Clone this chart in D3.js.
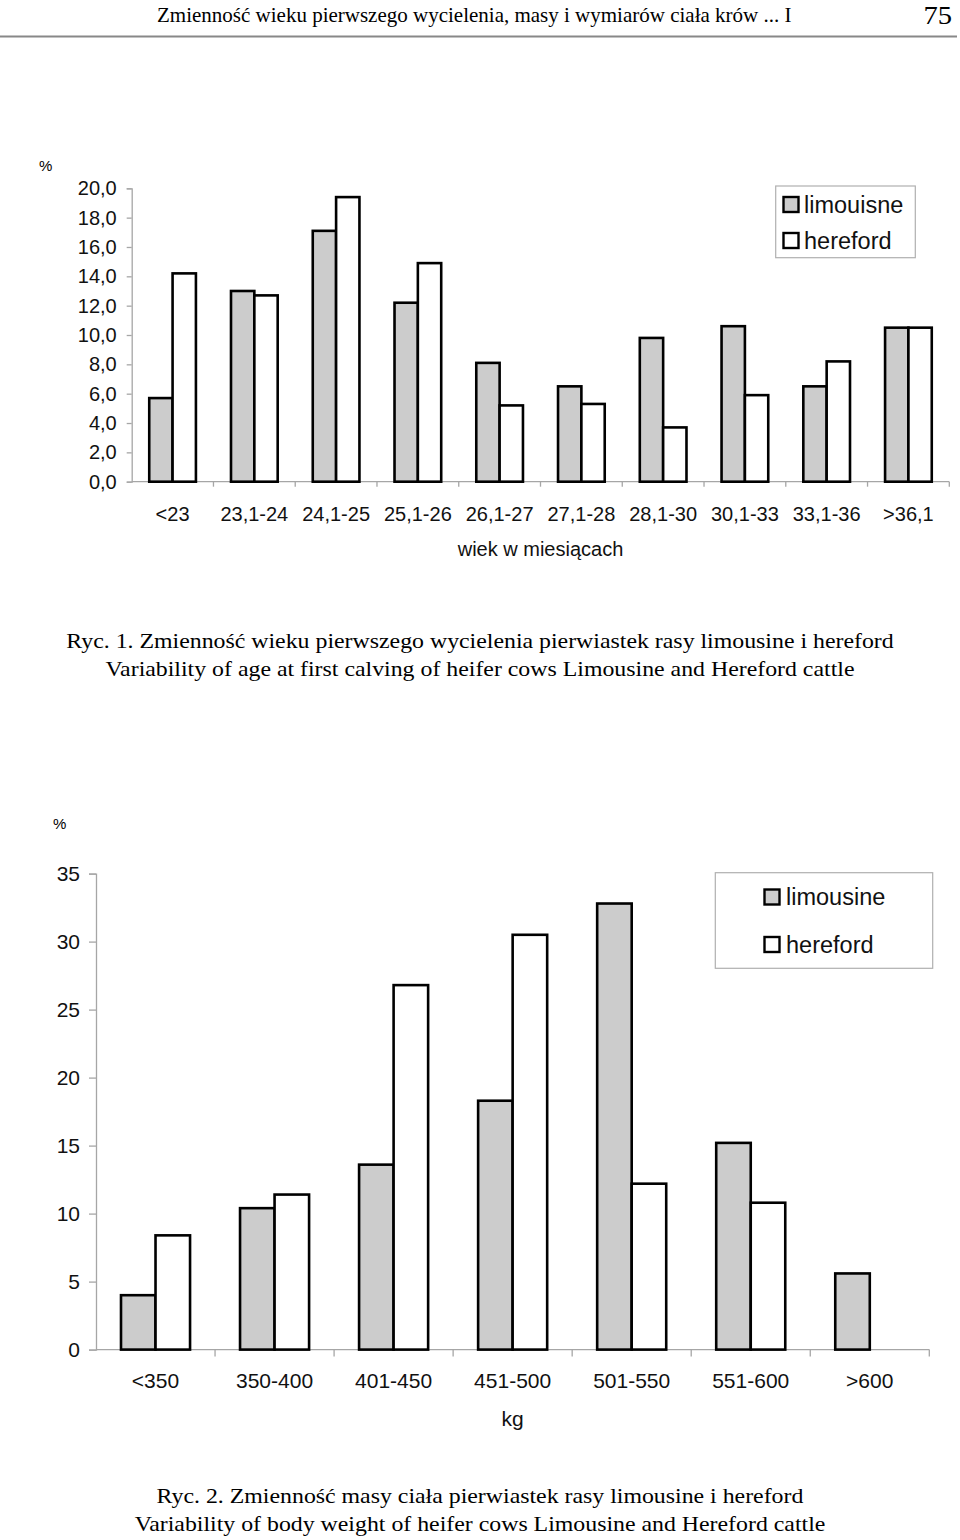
<!DOCTYPE html>
<html>
<head>
<meta charset="utf-8">
<script src="https://cdn.jsdelivr.net/npm/d3@7"></script>
<style>
  body { margin: 0; background: #fff; }
  .sans { font-family: "Liberation Sans", Arial, sans-serif; }
  .serif { font-family: "Liberation Serif", "Times New Roman", serif; }
</style>
</head>
<body>
<svg id="page" width="960" height="1540"></svg>
<script>
// Ryc. 1 - age at first calving
const ageCats = ["<23", "23,1-24", "24,1-25", "25,1-26", "26,1-27", "27,1-28", "28,1-30", "30,1-33", "33,1-36", ">36,1"];
const ageLimousine = [5.7, 13.0, 17.1, 12.2, 8.1, 6.5, 9.8, 10.6, 6.5, 10.5];
const ageHereford = [14.2, 12.7, 19.4, 14.9, 5.2, 5.3, 3.7, 5.9, 8.2, 10.5];
const ageTicks = [0, 2, 4, 6, 8, 10, 12, 14, 16, 18, 20];
const ageLegend = ["limouisne", "hereford"];

// Ryc. 2 - body weight
const weightCats = ["<350", "350-400", "401-450", "451-500", "501-550", "551-600", ">600"];
const weightLimousine = [4.0, 10.4, 13.6, 18.3, 32.8, 15.2, 5.6];
const weightHereford = [8.4, 11.4, 26.8, 30.5, 12.2, 10.8, 0];
const weightTicks = [0, 5, 10, 15, 20, 25, 30, 35];
const weightLegend = ["limousine", "hereford"];

const series = ["lim", "her"];
const fills = { lim: "#cccccc", her: "#ffffff" };

const svg = d3.select("#page");

// page header
svg.append("text")
  .attr("class", "serif")
  .attr("x", 157).attr("y", 22)
  .style("font-size", "21px")
  .text("Zmienność wieku pierwszego wycielenia, masy i wymiarów ciała krów ... I");
svg.append("text")
  .attr("class", "serif")
  .attr("transform", "translate(952,24) scale(1.1,1)")
  .attr("text-anchor", "end")
  .style("font-size", "26px")
  .text("75");
svg.append("line")
  .attr("x1", 0).attr("x2", 957)
  .attr("y1", 36.5).attr("y2", 36.5)
  .attr("stroke", "#888").attr("stroke-width", 2);

function drawChart(cfg) {
  const g = svg.append("g");
  const rows = cfg.cats.map((c, i) => ({ cat: c, lim: cfg.lim[i], her: cfg.her[i] }));

  const x = d3.scaleBand().domain(cfg.cats).range([cfg.left, cfg.right]);
  const bw = x.bandwidth();
  const inner = d3.scaleBand().domain(series)
    .range([bw * (1 - cfg.group) / 2, bw * (1 + cfg.group) / 2]);
  const y = d3.scaleLinear().domain(cfg.domain).range([cfg.bottom, cfg.top]);

  // y axis
  const yAxis = d3.axisLeft(y)
    .tickValues(cfg.ticks)
    .tickSize(cfg.tickLen)
    .tickPadding(cfg.tickPad)
    .tickFormat(cfg.fmt);
  const ya = g.append("g")
    .attr("transform", `translate(${cfg.left},0)`)
    .call(yAxis);
  ya.select(".domain").attr("stroke", "#a6a6a6").attr("stroke-width", 1.3);
  ya.selectAll(".tick line").attr("stroke", "#a6a6a6").attr("stroke-width", 1.3);
  ya.selectAll(".tick text")
    .attr("class", "sans")
    .style("font-size", cfg.fontSize + "px")
    .attr("fill", "#111");

  // x axis line and category boundaries
  g.append("line")
    .attr("x1", cfg.left).attr("x2", cfg.right)
    .attr("y1", y(0)).attr("y2", y(0))
    .attr("stroke", "#a6a6a6").attr("stroke-width", 1.3);
  const bounds = cfg.cats.slice(1).map(c => x(c)).concat([x(cfg.cats[cfg.cats.length - 1]) + bw]);
  g.selectAll(".xtick").data(bounds).enter().append("line")
    .attr("x1", d => d).attr("x2", d => d)
    .attr("y1", y(0)).attr("y2", y(0) + cfg.tickLen)
    .attr("stroke", "#a6a6a6").attr("stroke-width", 1.3);

  g.selectAll(".xlab").data(cfg.cats).enter().append("text")
    .attr("class", "sans")
    .attr("x", d => x(d) + bw / 2)
    .attr("y", cfg.labelY)
    .attr("text-anchor", "middle")
    .style("font-size", cfg.fontSize + "px")
    .attr("fill", "#111")
    .text(d => d);

  g.append("text")
    .attr("class", "sans")
    .attr("x", (cfg.left + cfg.right) / 2)
    .attr("y", cfg.titleY)
    .attr("text-anchor", "middle")
    .style("font-size", cfg.fontSize + "px")
    .attr("fill", "#111")
    .text(cfg.xTitle);

  g.append("text")
    .attr("class", "sans")
    .attr("x", cfg.pctX).attr("y", cfg.pctY)
    .style("font-size", "15px")
    .text("%");

  // bars
  const groups = g.selectAll(".grp").data(rows).enter().append("g")
    .attr("transform", d => `translate(${x(d.cat)},0)`);
  groups.selectAll("rect")
    .data(d => series.map(s => ({ s, v: d[s] })).filter(e => e.v > 0))
    .enter().append("rect")
    .attr("x", d => inner(d.s))
    .attr("width", inner.bandwidth())
    .attr("y", d => y(d.v))
    .attr("height", d => y(0) - y(d.v))
    .attr("fill", d => fills[d.s])
    .attr("stroke", "#000")
    .attr("stroke-width", 2.6);

  // legend
  const L = cfg.legend;
  const lg = g.append("g");
  lg.append("rect")
    .attr("x", L.x).attr("y", L.y).attr("width", L.w).attr("height", L.h)
    .attr("fill", "#fff").attr("stroke", "#b0b0b0").attr("stroke-width", 1.2);
  cfg.legendNames.forEach((name, i) => {
    lg.append("rect")
      .attr("x", L.sx).attr("y", L.sy[i]).attr("width", 15).attr("height", 15)
      .attr("fill", fills[series[i]]).attr("stroke", "#000").attr("stroke-width", 2.4);
    lg.append("text")
      .attr("class", "sans")
      .attr("x", L.tx).attr("y", L.ty[i])
      .style("font-size", L.fs + "px")
      .attr("fill", "#111")
      .text(name);
  });

  // caption (the scan's serif type is a bit wider than Times)
  cfg.caption.forEach((line, i) => {
    svg.append("text")
      .attr("class", "serif")
      .attr("transform", `translate(480,${cfg.capY[i]}) scale(1.135,1)`)
      .attr("text-anchor", "middle")
      .style("font-size", "21px")
      .text(line);
  });
}

drawChart({
  cats: ageCats, lim: ageLimousine, her: ageHereford,
  left: 131.7, right: 949.3, top: 188.3, bottom: 481.7,
  domain: [0, 20], ticks: ageTicks, group: 0.571,
  fmt: d => d3.format(".1f")(d).replace(".", ","),
  tickLen: 5, tickPad: 10, fontSize: 20,
  labelY: 521, titleY: 556, xTitle: "wiek w miesiącach",
  pctX: 39, pctY: 171,
  legendNames: ageLegend,
  legend: { x: 775.7, y: 186, w: 139.6, h: 71.7, sx: 783.5, sy: [197, 233], tx: 804, ty: [212.5, 248.5], fs: 23.5 },
  caption: [
    "Ryc. 1. Zmienność wieku pierwszego wycielenia pierwiastek rasy limousine i hereford",
    "Variability of age at first calving of heifer cows Limousine and Hereford cattle"
  ],
  capY: [648, 676]
});

drawChart({
  cats: weightCats, lim: weightLimousine, her: weightHereford,
  left: 96, right: 929.3, top: 873.6, bottom: 1349.6,
  domain: [0, 35], ticks: weightTicks, group: 0.58,
  fmt: d3.format("d"),
  tickLen: 7, tickPad: 9, fontSize: 21,
  labelY: 1388, titleY: 1426, xTitle: "kg",
  pctX: 53, pctY: 829,
  legendNames: weightLegend,
  legend: { x: 715.3, y: 872.7, w: 217.4, h: 95.6, sx: 764.5, sy: [889.5, 937], tx: 786, ty: [905, 952.5], fs: 23.5 },
  caption: [
    "Ryc. 2. Zmienność masy ciała pierwiastek rasy limousine i hereford",
    "Variability of body weight of heifer cows Limousine and Hereford cattle"
  ],
  capY: [1503, 1531]
});
</script>
</body>
</html>
